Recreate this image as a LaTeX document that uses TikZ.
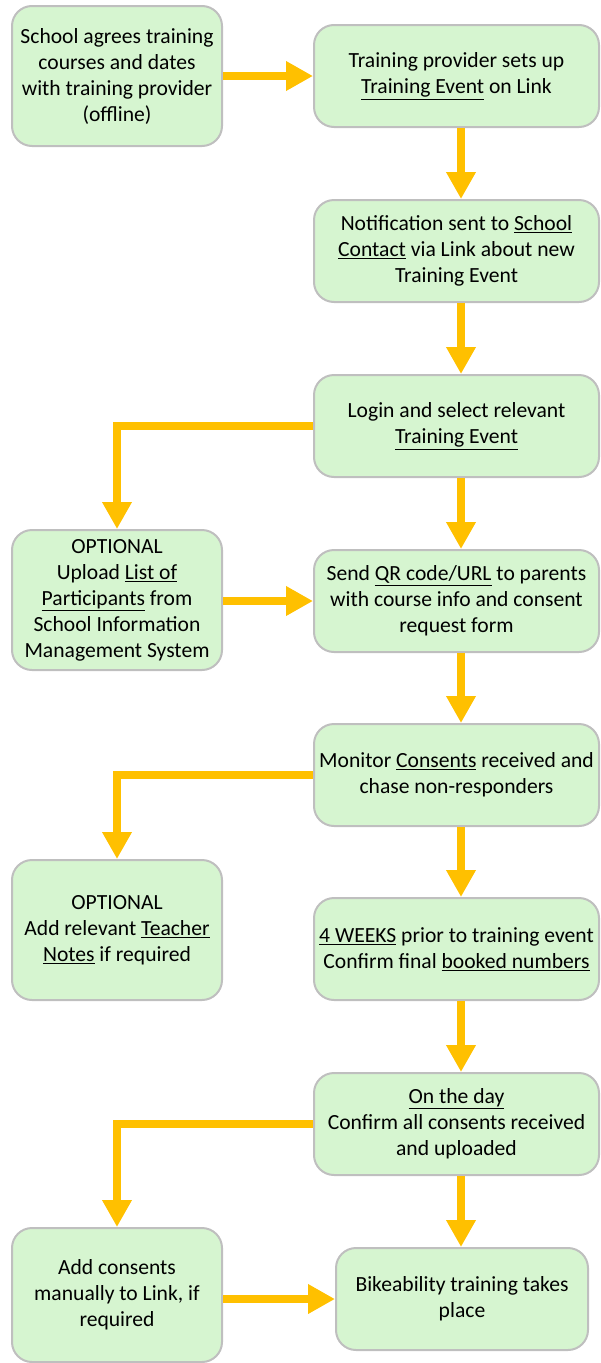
\documentclass[tikz,border=0pt]{standalone}
\usepackage{fontspec}
\setmainfont{Carlito}
\usetikzlibrary{arrows.meta}
\definecolor{boxgreen}{RGB}{214,245,208}
\definecolor{boxgray}{RGB}{191,191,191}
\definecolor{arrorange}{RGB}{255,192,0}
\tikzset{
	box/.style={draw=boxgray,line width=2pt,fill=boxgreen,rounded corners=20pt,align=center,inner sep=0pt,font=\fontsize{21.6}{26}\selectfont},
	wide/.style={box,minimum width=285pt,minimum height=102pt},
	narrow/.style={box,minimum width=210pt,minimum height=140pt},
	arr/.style={->,arrorange,line width=8pt},
}
\begin{document}
\begin{tikzpicture}[x=1pt,y=-1pt,>={Triangle[width=28pt,length=27pt]}]
			\useasboundingbox (0,0) rectangle (600,1363);
			% right column
			\node[wide] (setup) at (456.5,76) {Training provider sets up\\\underline{Training Event} on Link};
			\node[wide] (notify) at (456.5,251) {Notification sent to \underline{School}\\\underline{Contact} via Link about new\\Training Event};
			\node[wide] (login) at (456.5,426) {Login and select relevant\\\underline{Training Event}};
			\node[wide] (send) at (456.5,601) {Send \underline{QR code/URL} to parents\\with course info and consent\\request form};
			\node[wide] (monitor) at (456.5,775) {Monitor \underline{Consents} received and\\chase non-responders};
			\node[wide] (weeks) at (456.5,949) {\underline{4 WEEKS} prior to training event\\Confirm final \underline{booked numbers}};
			\node[wide] (day) at (456.5,1124) {\underline{On the day}\\Confirm all consents received\\and uploaded};
			\node[box,minimum width=252pt,minimum height=102pt] (bike) at (462,1299) {Bikeability training takes\\place};
			% left column
			\node[narrow] (agree) at (117,76) {School agrees training\\courses and dates\\with training provider\\(offline)};
			\node[narrow] (upload) at (117,600) {OPTIONAL\\Upload \underline{List of}\\\underline{Participants} from\\School Information\\Management System};
			\node[narrow] (notes) at (117,930) {OPTIONAL\\Add relevant \underline{Teacher}\\\underline{Notes} if required};
			\node[narrow,minimum height=134pt] (manual) at (117,1295) {Add consents\\manually to Link, if\\required};
			% arrows
			\draw[arr] (agree) -- (setup);
			\draw[arr] (setup.south -| 461,0) -- (notify.north -| 461,0);
			\draw[arr] (notify.south -| 461,0) -- (login.north -| 461,0);
			\draw[arr] (login.south -| 461,0) -- (send.north -| 461,0);
			\draw[arr] (send.south -| 461,0) -- (monitor.north -| 461,0);
			\draw[arr] (monitor.south -| 461,0) -- (weeks.north -| 461,0);
			\draw[arr] (weeks.south -| 461,0) -- (day.north -| 461,0);
			\draw[arr] (day.south -| 461,0) -- (bike.north -| 461,0);
			\draw[arr] (login.west) -| (upload.north);
			\draw[arr] (upload.east |- send.west) -- (send.west);
			\draw[arr] (monitor.west) -| (notes.north);
			\draw[arr] (day.west) -| (manual.north);
			\draw[arr] (manual.east |- bike.west) -- (bike.west);
\end{tikzpicture}
\end{document}
